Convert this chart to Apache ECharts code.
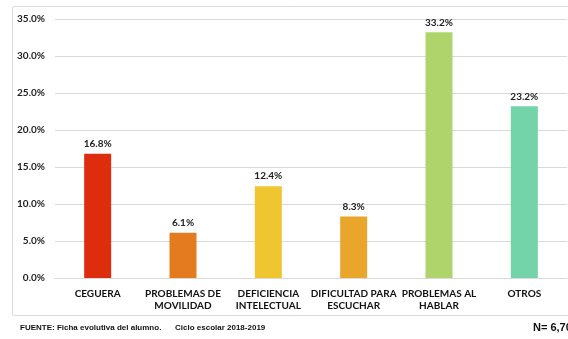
<!DOCTYPE html>
<html><head><meta charset="utf-8">
<script src="https://cdn.jsdelivr.net/npm/echarts@6/dist/echarts.min.js"></script>
<style>html,body{margin:0;padding:0;background:#fff}#c{width:568px;height:339px}</style>
</head><body><div id="c"></div>
<script>
const categories = ['CEGUERA', 'PROBLEMAS DE\nMOVILIDAD', 'DEFICIENCIA\nINTELECTUAL', 'DIFICULTAD PARA\nESCUCHAR', 'PROBLEMAS AL\nHABLAR', 'OTROS'];
const values = [16.8, 6.1, 12.4, 8.3, 33.2, 23.2];
const barColors = ['#DD2D0C', '#E47B1F', '#F0C630', '#EAA62A', '#AFD46B', '#73D3A9'];
const yTicks = [0, 5, 10, 15, 20, 25, 30, 35];
const sourceText = 'FUENTE: Ficha evolutiva del alumno.';
const cycleText = 'Ciclo escolar 2018-2019';
const nText = 'N= 6,70';

const chart = echarts.init(document.getElementById('c'), null, {renderer: 'canvas'});
chart.setOption({
  animation: false,
  backgroundColor: '#fff',
  grid: {left: 55, right: 1, top: 19, bottom: 61, containLabel: false},
  xAxis: {
    type: 'category', data: categories,
    axisLine: {lineStyle: {color: '#d9d9d9', width: 1}},
    axisTick: {show: false},
    axisLabel: {color: '#111', fontFamily: 'Lato', fontWeight: 'bold', fontSize: 10, lineHeight: 12, margin: 10, interval: 0}
  },
  yAxis: {
    type: 'value', min: yTicks[0], max: yTicks[yTicks.length - 1], interval: 5,
    axisLine: {show: false}, axisTick: {show: false},
    splitLine: {lineStyle: {color: '#d9d9d9', width: 1}},
    axisLabel: {color: '#222', fontFamily: 'Lato', fontWeight: 'bold', fontSize: 10, margin: 10,
      formatter: v => v.toFixed(1) + '%'}
  },
  series: [{
    type: 'bar', barWidth: 27,
    data: values.map((v, i) => ({value: v, itemStyle: {color: barColors[i]}})),
    label: {show: true, position: 'top', distance: 5, color: '#222', fontFamily: 'Lato', fontWeight: 'bold', fontSize: 10,
      formatter: p => p.value.toFixed(1) + '%'}
  }],
  graphic: [
    {type: 'rect', z: -1, shape: {x: 12.5, y: 6.5, width: 620, height: 309, r: 2}, style: {fill: 'none', stroke: '#d9d9d9', lineWidth: 1}},
    {type: 'text', left: 20, top: 324, style: {text: sourceText, fill: '#111', font: 'bold 8px "Liberation Sans"'}},
    {type: 'text', left: 175, top: 324, style: {text: cycleText, fill: '#111', font: 'bold 8px "Liberation Sans"'}},
    {type: 'text', left: 533, top: 322, style: {text: nText, fill: '#111', font: 'bold 11px "Liberation Sans"'}}
  ]
});
</script></body></html>
